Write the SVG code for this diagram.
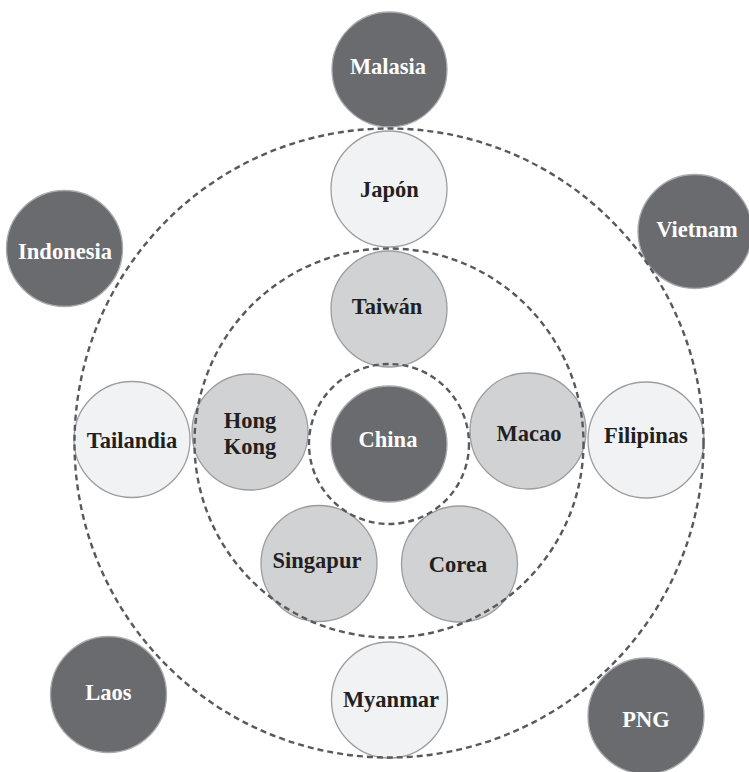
<svg xmlns="http://www.w3.org/2000/svg" width="749" height="772" viewBox="0 0 749 772">
<style>
.n circle{stroke-width:1.3}
.dark circle{fill:#6a6b6f;stroke:#a9aaad}
.mid circle{fill:#d1d2d4;stroke:#9c9d9f}
.light circle{fill:#f1f2f4;stroke:#9c9d9f}
text{font-family:"Liberation Serif","Times New Roman",serif;font-weight:bold;font-size:22.5px;text-anchor:middle}
.dark text{fill:#ffffff}
.mid text,.light text{fill:#231f20}
.ring{fill:none;stroke:#58595b;stroke-width:2.4;stroke-dasharray:6 4}
</style>
<rect width="749" height="772" fill="#ffffff"/>
<g id="nodes">
<g id="malasia" class="n dark"><circle cx="389.5" cy="69.5" r="57.5"/><text x="388" y="74">Malasia</text></g>
<g id="japon" class="n light"><circle cx="389" cy="189" r="58"/><text x="389.5" y="197">Japón</text></g>
<g id="vietnam" class="n dark"><circle cx="695" cy="231.5" r="57"/><text x="697" y="237">Vietnam</text></g>
<g id="indonesia" class="n dark"><circle cx="64.5" cy="248.5" r="58"/><text x="65" y="259">Indonesia</text></g>
<g id="taiwan" class="n mid"><circle cx="389" cy="309" r="58"/><text x="387" y="314">Taiwán</text></g>
<g id="tailandia" class="n light"><circle cx="132" cy="439.5" r="58"/><text x="132" y="448">Tailandia</text></g>
<g id="hongkong" class="n mid"><circle cx="250" cy="432" r="58"/><text x="250" y="428">Hong</text><text x="250" y="454">Kong</text></g>
<g id="china" class="n dark"><circle cx="389" cy="444" r="58"/><text x="388" y="447">China</text></g>
<g id="macao" class="n mid"><circle cx="528" cy="431" r="58"/><text x="529" y="441">Macao</text></g>
<g id="filipinas" class="n light"><circle cx="646" cy="440" r="58"/><text x="646" y="443">Filipinas</text></g>
<g id="singapur" class="n mid"><circle cx="319" cy="563.5" r="58"/><text x="317" y="568">Singapur</text></g>
<g id="corea" class="n mid"><circle cx="459.5" cy="564" r="58"/><text x="458" y="572">Corea</text></g>
<g id="myanmar" class="n light"><circle cx="389.5" cy="700" r="58"/><text x="391" y="707">Myanmar</text></g>
<g id="laos" class="n dark"><circle cx="108.5" cy="694.5" r="58"/><text x="108.5" y="700">Laos</text></g>
<g id="png" class="n dark"><circle cx="646" cy="716" r="58"/><text x="646" y="727">PNG</text></g>
</g>
<g id="connectors">
<circle class="ring" cx="389" cy="443" r="314.5"/>
<circle class="ring" cx="389" cy="443" r="194.5"/>
<circle class="ring" cx="389" cy="444" r="80"/>
</g>
</svg>
